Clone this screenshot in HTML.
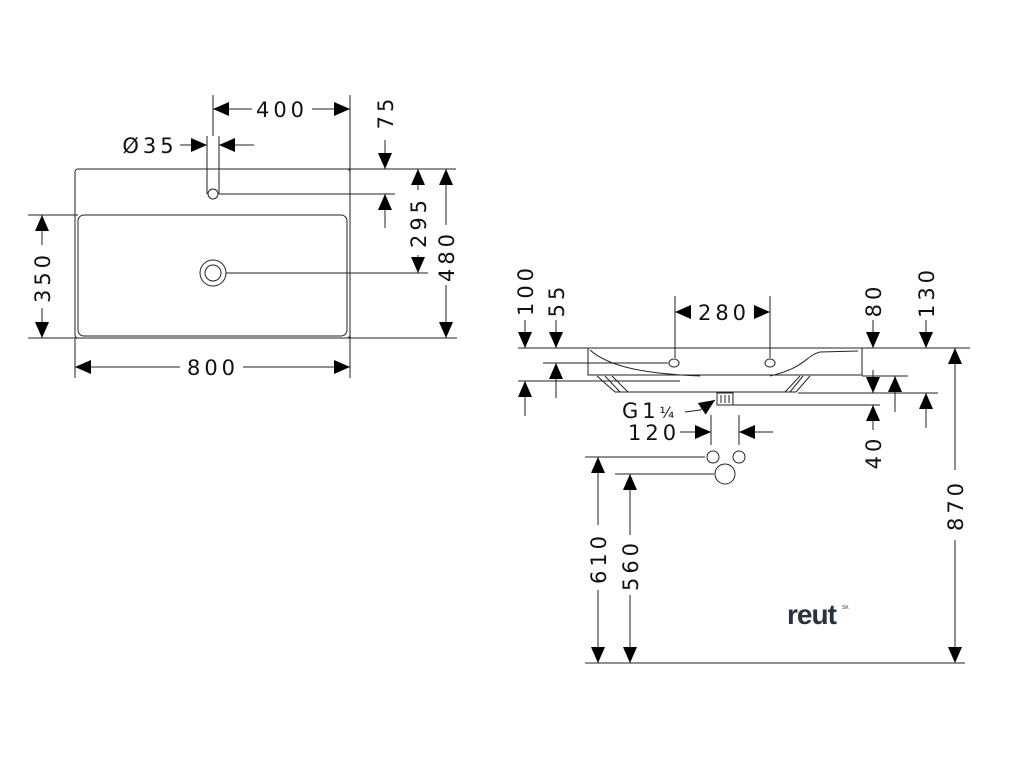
<!DOCTYPE html>
<html><head><meta charset="utf-8"><style>
html,body{margin:0;padding:0;background:#fff}
svg{display:block}
text{font-family:"DejaVu Sans","Liberation Sans",sans-serif;font-size:21px;fill:#111;letter-spacing:4px}
</style></head><body>
<svg width="1024" height="768" viewBox="0 0 1024 768" xmlns="http://www.w3.org/2000/svg">
<defs>
<marker id="a" viewBox="0 0 16 14" refX="16" refY="7" markerWidth="16" markerHeight="14" markerUnits="userSpaceOnUse" orient="auto"><path d="M0,0L16,7L0,14z" fill="#000"/></marker>
</defs>
<g stroke="#222" stroke-width="1" fill="none">
<rect x="75" y="169" width="275" height="169" rx="3"/>
<rect x="78" y="215" width="269" height="121" rx="6"/>
<circle cx="213" cy="273" r="13"/><circle cx="213" cy="273" r="8"/>
<circle cx="213" cy="194" r="5"/>
<line x1="207" y1="136" x2="207" y2="194"/><line x1="219" y1="136" x2="219" y2="194"/>
<line x1="213" y1="95" x2="213" y2="136"/>
<line x1="350" y1="95" x2="350" y2="378"/>
<line x1="75" y1="338" x2="75" y2="378"/>
<line x1="300" y1="169" x2="456" y2="169"/>
<line x1="219" y1="194" x2="395" y2="194"/>
<line x1="226" y1="273" x2="428" y2="273"/>
<line x1="28" y1="338" x2="457" y2="338"/>
<line x1="28" y1="215" x2="78" y2="215"/>
<line x1="252" y1="109" x2="213" y2="109" marker-end="url(#a)"/>
<line x1="312" y1="109" x2="350" y2="109" marker-end="url(#a)"/>
<line x1="180" y1="145" x2="207" y2="145" marker-end="url(#a)"/>
<line x1="254" y1="145" x2="219" y2="145" marker-end="url(#a)"/>
<line x1="385" y1="140" x2="385" y2="169" marker-end="url(#a)"/>
<line x1="385" y1="228" x2="385" y2="194" marker-end="url(#a)"/>
<line x1="418" y1="190" x2="418" y2="169" marker-end="url(#a)"/>
<line x1="418" y1="255" x2="418" y2="273" marker-end="url(#a)"/>
<line x1="446" y1="225" x2="446" y2="169" marker-end="url(#a)"/>
<line x1="446" y1="285" x2="446" y2="338" marker-end="url(#a)"/>
<line x1="42" y1="245" x2="42" y2="215" marker-end="url(#a)"/>
<line x1="42" y1="308" x2="42" y2="338" marker-end="url(#a)"/>
<line x1="180" y1="367" x2="75" y2="367" marker-end="url(#a)"/>
<line x1="243" y1="367" x2="350" y2="367" marker-end="url(#a)"/>

<line x1="518" y1="348" x2="588" y2="348"/>
<line x1="862" y1="348" x2="970" y2="348"/>
<path d="M588,348 L862,348 L862,375 L588,375 Z"/>
<path d="M590,350 C610,368 650,374 700,376"/>
<path d="M858,351 L820,352 C805,356 805,368 770,376"/>
<path d="M597,376 L615,392 L628,392 L612,376"/>
<path d="M605,376 L620,392"/>
<path d="M810,376 L796,392 L785,392 L800,376"/>
<path d="M803,376 L790,392"/>
<line x1="615" y1="392" x2="796" y2="392"/>
<rect x="717" y="393" width="16" height="12"/>
<line x1="721" y1="395" x2="721" y2="403"/><line x1="725" y1="395" x2="725" y2="403"/><line x1="729" y1="395" x2="729" y2="403"/>
<ellipse cx="674" cy="363" rx="5" ry="4"/><ellipse cx="770" cy="363" rx="5" ry="4"/>
<line x1="675" y1="296" x2="675" y2="358"/><line x1="770" y1="296" x2="770" y2="358"/>
<line x1="518" y1="381" x2="680" y2="381"/>
<line x1="543" y1="363" x2="668" y2="363"/>
<line x1="862" y1="376" x2="908" y2="376"/>
<line x1="798" y1="393" x2="938" y2="393"/>
<line x1="733" y1="405" x2="880" y2="405"/>
<line x1="690" y1="312" x2="675" y2="312" marker-end="url(#a)"/>
<line x1="755" y1="312" x2="770" y2="312" marker-end="url(#a)"/>
<line x1="525" y1="320" x2="525" y2="348" marker-end="url(#a)"/>
<line x1="525" y1="416" x2="525" y2="381" marker-end="url(#a)"/>
<line x1="556" y1="320" x2="556" y2="348" marker-end="url(#a)"/>
<line x1="556" y1="398" x2="556" y2="363" marker-end="url(#a)"/>
<line x1="873" y1="320" x2="873" y2="348" marker-end="url(#a)"/>
<line x1="873" y1="370" x2="873" y2="393" marker-end="url(#a)"/>
<line x1="873" y1="430" x2="873" y2="405" marker-end="url(#a)"/>
<line x1="895" y1="412" x2="895" y2="376" marker-end="url(#a)"/>
<line x1="926" y1="320" x2="926" y2="348" marker-end="url(#a)"/>
<line x1="926" y1="428" x2="926" y2="393" marker-end="url(#a)"/>
<line x1="955" y1="470" x2="955" y2="348" marker-end="url(#a)"/>
<line x1="955" y1="540" x2="955" y2="663" marker-end="url(#a)"/>
<path d="M685,412 L700,410 L715,400" marker-end="url(#a)"/>
<line x1="680" y1="432" x2="711" y2="432" marker-end="url(#a)"/>
<line x1="773" y1="432" x2="739" y2="432" marker-end="url(#a)"/>
<line x1="711" y1="415" x2="711" y2="445"/><line x1="739" y1="415" x2="739" y2="445"/>
<circle cx="713" cy="457" r="6"/><circle cx="739" cy="457" r="6"/><circle cx="725" cy="474" r="10"/>
<line x1="585" y1="457" x2="705" y2="457"/>
<line x1="615" y1="474" x2="714" y2="474"/>
<line x1="585" y1="663" x2="965" y2="663"/>
<line x1="598" y1="525" x2="598" y2="457" marker-end="url(#a)"/>
<line x1="598" y1="590" x2="598" y2="663" marker-end="url(#a)"/>
<line x1="630" y1="535" x2="630" y2="474" marker-end="url(#a)"/>
<line x1="630" y1="595" x2="630" y2="663" marker-end="url(#a)"/>
</g>
<g stroke="none">
<text x="282" y="117" text-anchor="middle">400</text>
<text x="150" y="153" text-anchor="middle">Ø35</text>
<text x="213" y="375" text-anchor="middle">800</text>
<text transform="translate(393,112) rotate(-90)" text-anchor="middle">75</text>
<text transform="translate(426,222) rotate(-90)" text-anchor="middle">295</text>
<text transform="translate(454,256) rotate(-90)" text-anchor="middle">480</text>
<text transform="translate(50,277) rotate(-90)" text-anchor="middle">350</text>
<text x="724" y="320" text-anchor="middle">280</text>
<text transform="translate(533,290) rotate(-90)" text-anchor="middle">100</text>
<text transform="translate(564,300) rotate(-90)" text-anchor="middle">55</text>
<text transform="translate(881,300) rotate(-90)" text-anchor="middle">80</text>
<text transform="translate(934,292) rotate(-90)" text-anchor="middle">130</text>
<text transform="translate(881,452) rotate(-90)" text-anchor="middle">40</text>
<text transform="translate(963,505) rotate(-90)" text-anchor="middle">870</text>
<text transform="translate(606,558) rotate(-90)" text-anchor="middle">610</text>
<text transform="translate(638,565) rotate(-90)" text-anchor="middle">560</text>
<text x="622" y="418">G1<tspan font-size="15">¼</tspan></text>
<text x="628" y="440">120</text>
<text x="787" y="624" style="font-family:'Liberation Sans',sans-serif;font-weight:bold;font-size:28px;fill:#2a3142;letter-spacing:-1px">reut</text>
<text x="842" y="609" style="font-family:'Liberation Sans',sans-serif;font-size:5px;fill:#2a3142;letter-spacing:0">SK</text>
</g>
</svg>
</body></html>
